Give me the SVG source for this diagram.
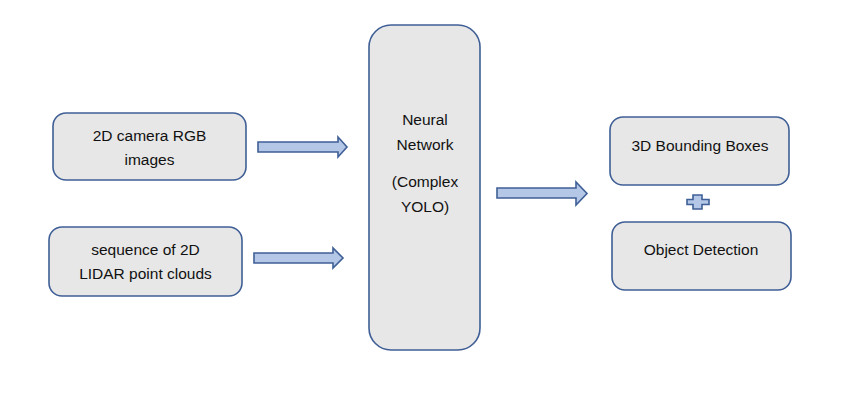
<svg xmlns="http://www.w3.org/2000/svg" width="855" height="403" viewBox="0 0 855 403">
<style>
.box{fill:#e7e7e7;stroke:#3f5f96;stroke-width:1.6}
.arr{fill:#b4c7e7;stroke:#3f5f96;stroke-width:1.6;stroke-linejoin:miter}
text{font-family:"Liberation Sans",Arial,sans-serif;font-size:15.5px;fill:#111;text-anchor:middle}
</style>
<rect width="855" height="403" fill="#ffffff"/>
<g id="node-camera">
<rect class="box" x="53" y="113" width="193" height="67" rx="13"/>
<text x="149.5" y="140.5">2D camera RGB</text>
<text x="149.5" y="164.5">images</text>
</g>
<g id="node-lidar">
<rect class="box" x="49" y="227" width="193" height="69" rx="13"/>
<text x="145.5" y="254.5">sequence of 2D</text>
<text x="145.5" y="278.5">LIDAR point clouds</text>
</g>
<g id="node-nn">
<rect class="box" x="369" y="25" width="111" height="325" rx="22"/>
<text x="425" y="125">Neural</text>
<text x="425" y="150">Network</text>
<text x="425" y="187">(Complex</text>
<text x="425" y="212">YOLO)</text>
</g>
<g id="node-bbox">
<rect class="box" x="610" y="117" width="179" height="68" rx="13"/>
<text x="700" y="150.5">3D Bounding Boxes</text>
</g>
<g id="node-detect">
<rect class="box" x="612" y="222" width="179" height="68" rx="13"/>
<text x="701" y="254.5">Object Detection</text>
</g>
<g id="connectors">
<polygon class="arr" points="258,142 338,142 338,137 347,147 338,157 338,152 258,152"/>
<polygon class="arr" points="254,253 333,253 333,248 343,258 333,268 333,263 254,263"/>
<polygon class="arr" points="497,188 576,188 576,182 587,193.5 576,205 576,198 497,198"/>
<polygon class="arr" points="693,195 702,195 702,199.5 709,199.5 709,204.5 702,204.5 702,209 693,209 693,204.5 687,204.5 687,199.5 693,199.5"/>
</g>
</svg>
